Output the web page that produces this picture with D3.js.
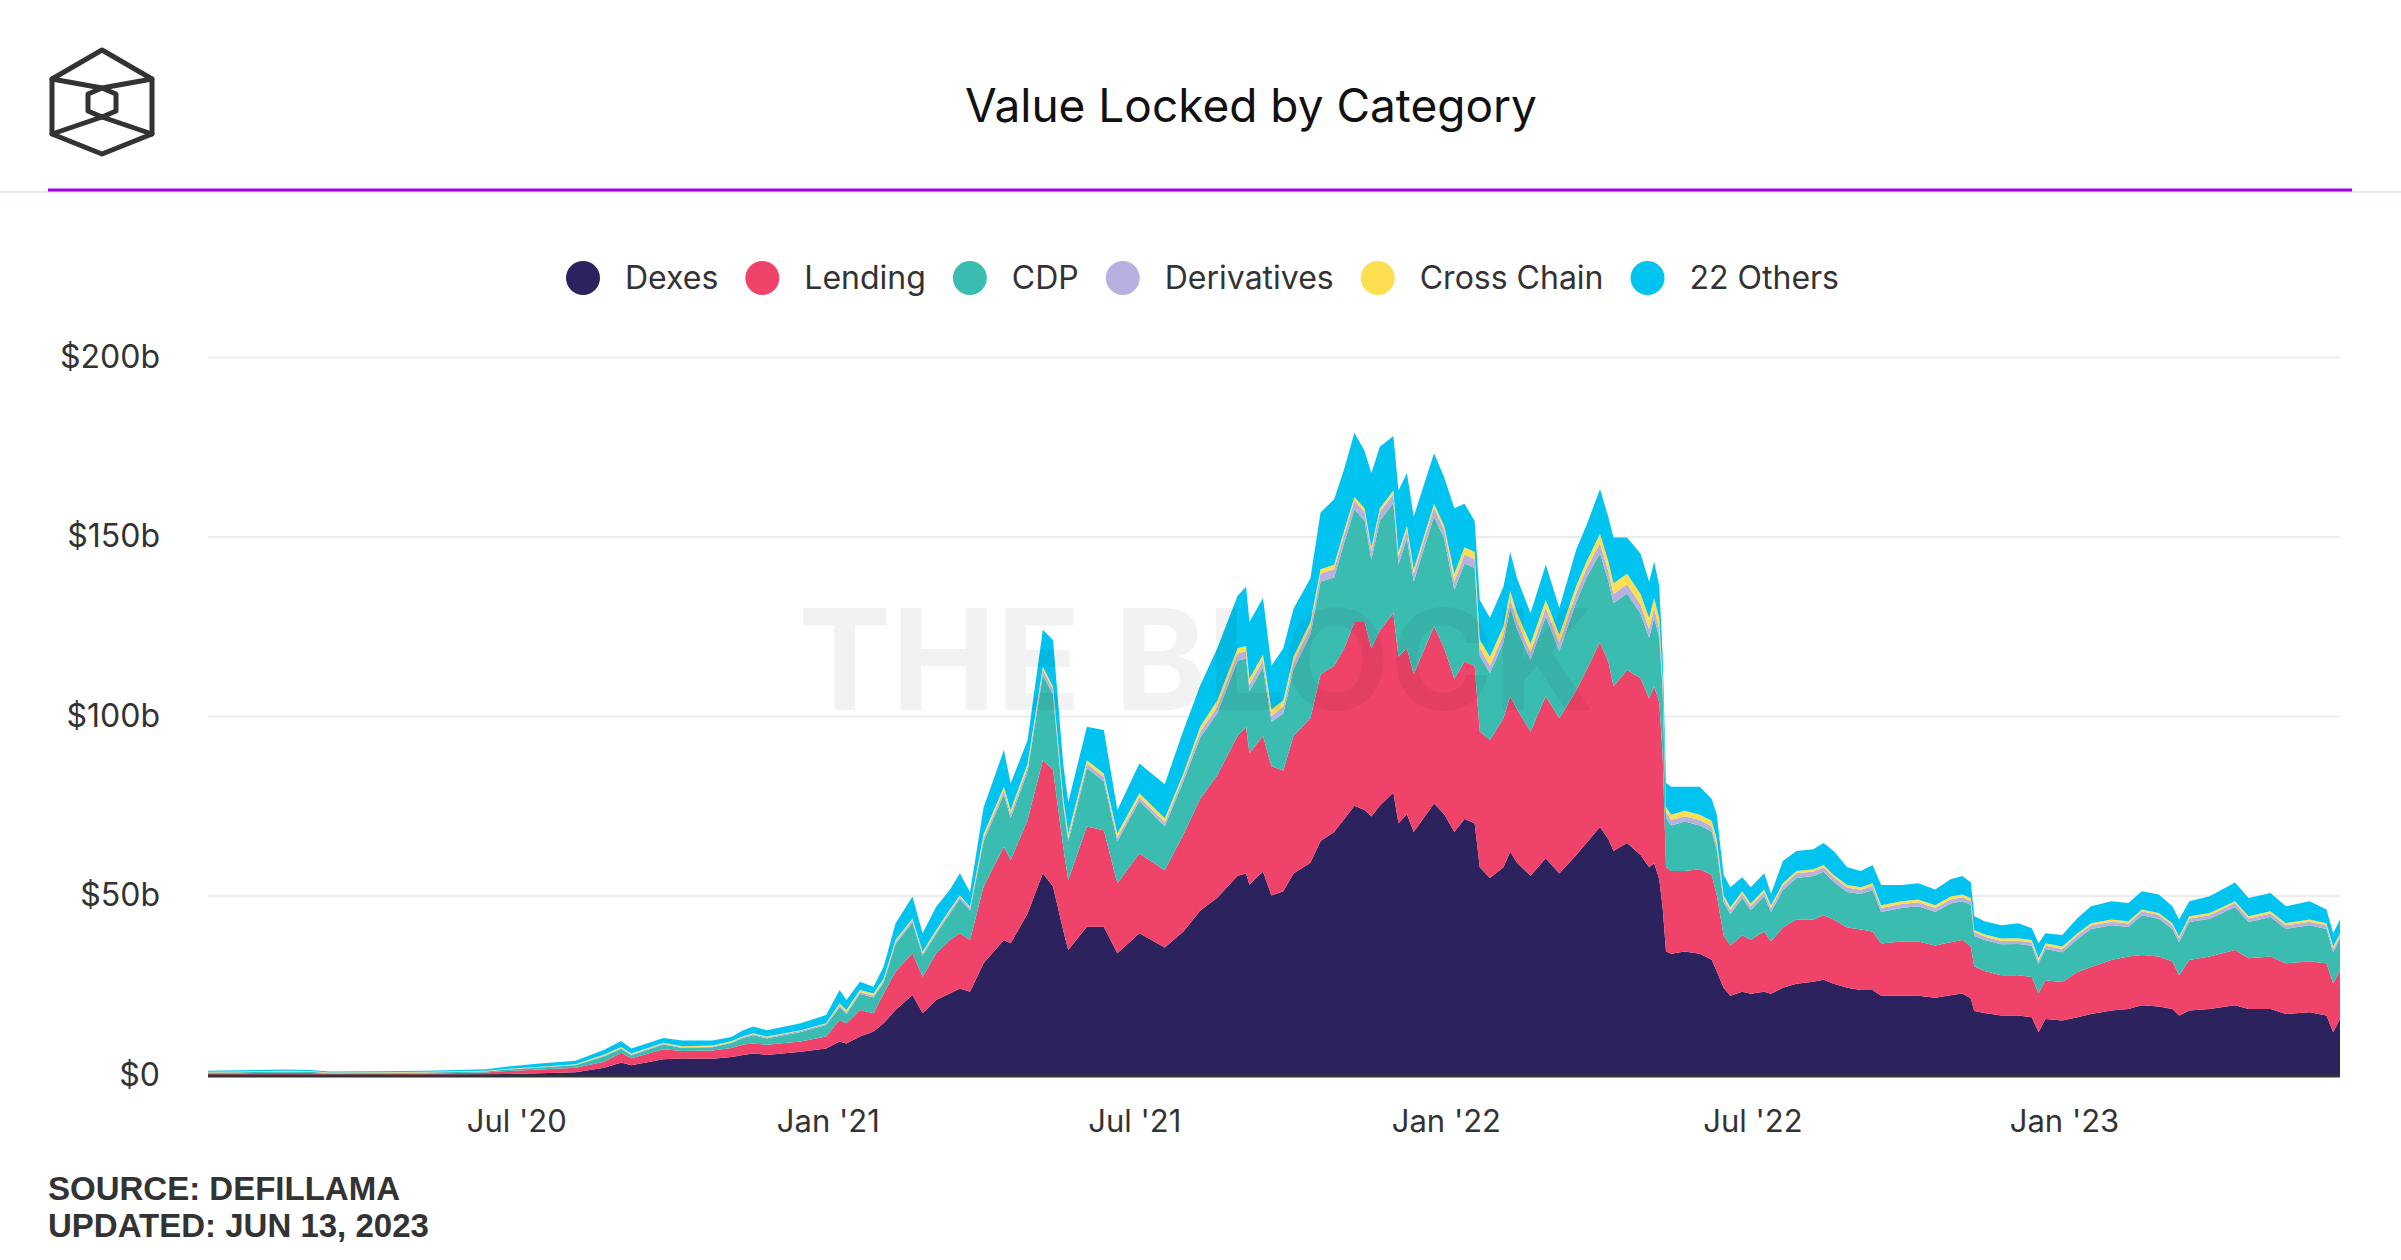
<!DOCTYPE html>
<html>
<head>
<meta charset="utf-8">
<script src="https://cdn.jsdelivr.net/npm/d3@7"></script>
<style>
  body { margin: 0; background: #fff; }
  svg { display: block; }
</style>
</head>
<body>
<div id="chart"></div>
<script>
// sample dates
const dates = ['2020-01-01','2020-01-20','2020-02-15','2020-03-01','2020-03-13','2020-04-10','2020-05-10','2020-06-13','2020-06-25','2020-07-15',
  '2020-08-05','2020-08-22','2020-09-01','2020-09-07','2020-09-26','2020-10-07','2020-10-25','2020-11-05','2020-11-12','2020-11-18',
  '2020-11-26','2020-12-16','2020-12-31','2021-01-08','2021-01-12','2021-01-20','2021-01-28','2021-02-03','2021-02-10','2021-02-20',
  '2021-02-26','2021-03-06','2021-03-14','2021-03-20','2021-03-26','2021-04-03','2021-04-15','2021-04-19','2021-04-29','2021-05-08',
  '2021-05-14','2021-05-20','2021-05-23','2021-06-03','2021-06-13','2021-06-21','2021-07-04','2021-07-19','2021-07-30','2021-08-09',
  '2021-08-19','2021-08-31','2021-09-05','2021-09-07','2021-09-15','2021-09-20','2021-09-27','2021-10-03','2021-10-13','2021-10-19',
  '2021-10-27','2021-11-02','2021-11-08','2021-11-14','2021-11-18','2021-11-23','2021-12-01','2021-12-04','2021-12-09','2021-12-13',
  '2021-12-25','2021-12-31','2022-01-06','2022-01-12','2022-01-18','2022-01-21','2022-01-27','2022-02-04','2022-02-08','2022-02-12',
  '2022-02-20','2022-03-01','2022-03-09','2022-03-19','2022-03-25','2022-04-02','2022-04-07','2022-04-10','2022-04-18','2022-04-26',
  '2022-05-01','2022-05-04','2022-05-07','2022-05-09','2022-05-11','2022-05-14','2022-05-22','2022-05-31','2022-06-07','2022-06-10',
  '2022-06-14','2022-06-18','2022-06-25','2022-06-30','2022-07-08','2022-07-12','2022-07-19','2022-07-27','2022-08-06','2022-08-12',
  '2022-08-18','2022-08-26','2022-09-03','2022-09-10','2022-09-15','2022-09-27','2022-10-07','2022-10-17','2022-10-26','2022-11-02',
  '2022-11-07','2022-11-09','2022-11-15','2022-11-25','2022-12-05','2022-12-13','2022-12-17','2022-12-21','2022-12-31','2023-01-09',
  '2023-01-17','2023-01-29','2023-02-08','2023-02-16','2023-02-26','2023-03-06','2023-03-10','2023-03-16','2023-03-28','2023-04-12',
  '2023-04-20','2023-05-03','2023-05-12','2023-05-26','2023-06-05','2023-06-09','2023-06-13'];

// values in $b
const dexes = [.05,.05,.1,.1,.05,.1,.1,.2,.3,.5,
  .8,2.0,3.5,2.7,4.4,4.6,4.5,5.0,5.6,6.0,
  5.6,6.5,7.4,9.3,8.8,10.7,12.1,14.4,18.1,22.3,
  17.2,20.9,22.7,24.1,23.2,31.1,37.6,36.7,45.0,56.2,
  52.5,40.4,34.8,41.3,41.3,33.9,39.5,35.5,40.0,45.8,
  49.4,55.5,56.1,53.0,56.7,50.0,51.2,56.1,59.1,65.2,
  67.7,71.3,75.0,73.8,72.0,75.0,78.7,70.1,72.6,67.7,
  75.6,72.6,67.7,71.3,70.1,57.9,54.9,57.9,62.2,59.1,
  55.5,60.4,56.1,61.3,64.6,69.1,65.7,62.4,64.6,61.3,
  57.9,59.0,54.5,46.7,34.4,33.8,34.4,33.8,32.1,28.8,
  24.3,22.1,23.2,22.6,23.2,22.6,24.3,25.4,26.0,26.5,
  25.4,24.3,23.7,23.7,22.1,22.1,22.1,21.5,22.2,22.7,
  21.3,17.8,17.3,16.6,16.6,16.1,11.9,15.6,15.2,16.1,
  17.0,18.0,18.4,19.4,19.1,18.4,16.6,18.0,18.4,19.4,
  18.4,18.4,17.0,17.5,16.6,11.9,15.6];

const lending = [.45,.45,.5,.45,.3,.3,.35,.5,.8,1.0,
  1.2,1.7,2.7,2.0,2.8,2.1,2.3,2.5,2.9,2.8,
  2.8,2.8,3.3,6.0,5.6,7.4,5.1,8.3,10.7,11.6,
  10.2,13.0,14.9,15.4,14.4,21.4,26.0,23.2,26.0,31.5,
  32.5,23.2,19.5,27.9,26.9,19.5,22.2,21.5,27.0,31.2,
  34.1,39.0,40.9,36.6,37.8,36.0,33.6,38.4,40.3,46.4,
  46.3,47.6,51.2,52.4,46.9,48.8,50.0,46.4,46.3,43.9,
  49.4,46.3,42.7,43.9,43.9,37.8,38.4,41.5,43.3,42.7,
  40.2,45.1,43.3,45.9,48.2,51.5,49.3,45.9,48.2,49.2,
  47.0,49.3,49.3,42.6,23.5,23.0,22.4,23.5,23.6,21.3,
  14.6,14.0,15.7,15.1,16.8,14.6,16.8,17.9,17.3,18.0,
  17.9,16.8,16.8,16.3,14.5,15.1,15.1,14.6,14.8,14.9,
  14.5,12.5,11.7,11.2,11.2,11.2,10.8,10.8,10.7,12.6,
  13.1,14.0,14.6,14.0,13.9,13.2,11.2,14.0,14.6,15.4,
  14.1,14.6,14.1,14.1,14.5,13.6,13.6];

const cdp = [.2,.25,.4,.35,.15,.2,.25,.3,.4,.6,
  .7,1.5,1.1,.8,1.3,.8,.9,1.4,1.8,2.3,
  1.8,2.7,3.2,3.6,2.6,4.5,4.4,3.1,7.7,8.6,
  5.9,5.4,7.3,9.5,8.2,12.6,14.5,11.7,13.6,23.8,
  21.0,11.7,10.8,16.3,13.6,11.7,14.6,12.3,14.8,17.1,
  17.3,20.9,19.0,17.3,19.1,12.3,16.0,18.5,23.3,25.8,
  24.6,29.4,31.3,28.2,24.6,30.6,30.6,25.7,30.6,25.8,
  30.6,30.6,24.7,27.3,27.2,21.1,18.7,21.1,24.8,22.4,
  19.9,22.3,18.7,24.6,25.7,24.7,22.5,23.2,21.3,18.0,
  16.9,19.1,18.0,18.2,13.8,12.7,13.8,12.2,12.1,12.6,
  9.3,8.7,10.4,8.2,9.8,8.2,10.4,11.6,12.1,12.1,
  10.5,9.9,9.9,11.5,8.8,9.3,9.8,9.3,10.8,10.8,
  11.6,8.5,8.6,8.6,8.7,8.7,8.2,8.7,8.3,9.2,
  10.6,9.7,8.2,11.1,10.5,9.1,9.2,10.6,10.5,12.0,
  10.1,11.0,9.6,10.1,9.6,8.7,8.7];

const derivatives = [.05,.05,.05,.05,.04,.05,.05,.06,.08,.1,
  .15,.2,.25,.2,.25,.22,.22,.25,.3,.3,
  .3,.35,.4,.5,.45,.5,.5,.55,.6,.7,
  .6,.6,.65,.7,.7,1.0,1.2,1.1,1.2,1.5,
  1.4,1.1,1.0,1.2,1.2,1.0,1.1,1.1,1.3,1.6,
  1.8,2.0,2.1,1.9,2.0,1.8,1.9,2.0,2.1,2.3,
  2.3,2.4,2.5,2.4,2.3,2.5,2.5,2.3,2.4,2.2,
  2.5,2.4,2.4,2.5,2.5,2.2,2.1,2.3,2.4,2.3,
  2.2,2.4,2.3,2.5,2.6,2.8,2.7,2.5,2.6,2.5,
  2.4,2.5,2.4,2.0,1.6,1.5,1.5,1.5,1.5,1.4,
  1.2,1.1,1.2,1.1,1.2,1.1,1.2,1.3,1.3,1.3,
  1.3,1.2,1.2,1.2,1.1,1.1,1.1,1.1,1.1,1.1,
  1.1,1.0,1.0,.9,.9,.9,.9,.9,.9,1.0,
  1.0,1.0,1.0,1.1,1.1,1.0,1.0,1.0,1.0,1.1,
  1.0,1.0,1.0,1.0,1.0,.9,.9];

const crossChain = [.15,.15,.15,.15,.16,.15,.15,.14,.12,.1,
  .15,.3,.25,.3,.25,.28,.28,.25,.2,.2,
  .2,.15,.1,.6,.65,.6,.6,.55,.5,.4,
  .5,.5,.45,.4,.4,1.0,1.0,1.1,1.0,.7,
  .8,1.1,1.2,1.0,1.0,1.2,1.1,1.1,.9,1.4,
  1.7,1.5,1.4,1.6,1.5,1.7,1.6,1.5,1.4,1.2,
  1.2,1.1,1.0,1.1,1.2,1.0,1.0,1.2,1.1,1.3,
  1.0,1.1,2.1,2.0,2.0,2.3,2.4,2.2,2.1,2.2,
  2.3,2.1,2.2,2.0,1.9,2.7,2.8,3.0,2.9,3.0,
  3.1,3.0,3.1,1.0,1.4,1.5,1.5,1.5,1.5,1.6,
  .7,.8,.7,.8,.7,.8,.7,.6,.6,.6,
  .6,.7,.7,.7,.8,.8,.8,.8,.8,.8,
  .8,.6,.6,.7,.7,.7,.7,.7,.7,.6,
  .6,.6,.6,.5,.5,.6,.6,.6,.6,.5,
  .6,.6,.6,.6,.6,.7,.7];

const others = [.3,.35,.3,.3,.25,.25,.3,.4,.6,.9,
  1.0,1.3,1.7,1.4,1.3,1.6,1.4,1.2,1.7,1.9,
  1.8,1.9,2.3,3.7,2.8,2.3,1.9,3.3,4.6,6.1,
  5.1,6.5,5.5,6.1,4.0,7.4,10.2,7.4,6.5,10.3,
  13.0,9.3,8.7,9.3,12.1,6.5,8.3,9.5,12.0,11.5,
  14.6,14.6,16.5,15.8,15.8,12.2,14.6,13.4,12.2,15.8,
  18.3,17.1,17.9,15.9,20.7,17.1,15.2,17.1,14.7,14.6,
  14.1,13.5,18.3,12.1,8.6,11.0,10.9,11.0,10.9,9.7,
  8.6,9.8,7.5,10.1,10.1,12.4,12.3,12.7,10.1,11.2,
  10.1,10.1,9.0,6.7,6.7,7.8,6.7,7.8,6.1,6.8,
  5.6,5.6,3.9,4.5,4.5,3.2,6.2,5.6,5.6,6.1,
  6.7,5.0,4.5,5.1,5.6,4.5,4.5,4.4,4.8,5.1,
  4.3,3.9,3.6,3.7,4.2,3.3,4.2,2.8,3.2,4.2,
  4.7,5.1,5.1,5.1,5.2,4.7,4.7,4.2,4.7,5.2,
  5.1,5.1,4.7,5.1,3.8,3.7,3.8];

const categories = ['Dexes', 'Lending', 'CDP', 'Derivatives', 'Cross Chain', '22 Others'];
const colors = ['#2b225e', '#f04369', '#3bbcb1', '#b8b1e0', '#fddf4f', '#00c3ef'];

const yTicks = [0, 50, 100, 150, 200];
const yTickLabels = ['$0', '$50b', '$100b', '$150b', '$200b'];
const xTicks = ['2020-07-01', '2021-01-01', '2021-07-01', '2022-01-01', '2022-07-01', '2023-01-01'];

const W = 2401, H = 1260;
const plot = { left: 208, right: 2340, top: 357, bottom: 1075 };
const parse = d3.timeParse('%Y-%m-%d');

const svg = d3.select('#chart').append('svg')
  .attr('width', W)
  .attr('height', H)
  .style('font-family', 'Inter, "Noto Sans", sans-serif');

svg.append('rect').attr('width', W).attr('height', H).attr('fill', '#fff');

// logo (cube outline)
const logo = svg.append('g')
  .attr('fill', 'none')
  .attr('stroke', '#333')
  .attr('stroke-width', 5)
  .attr('stroke-linejoin', 'round')
  .attr('stroke-linecap', 'round');
logo.append('path').attr('d', 'M102,50 L152,79 L152,134 L102,154 L52,134 L52,79 Z');
logo.append('path').attr('d', 'M52,79 L102,88 L152,79 M52,134 L102,117 L152,134');
logo.append('path').attr('d', 'M102,88 L116,94 L116,111 L102,117 L88,111 L88,94 Z');

// title
svg.append('text')
  .attr('x', 1251)
  .attr('y', 122)
  .attr('text-anchor', 'middle')
  .attr('fill', '#111')
  .style('font-size', '46px')
  .style('font-weight', '400')
  .text('Value Locked by Category');

// header rules
svg.append('line')
  .attr('x1', 0).attr('x2', W).attr('y1', 192).attr('y2', 192)
  .attr('stroke', '#efe6f4').attr('stroke-width', 2);
svg.append('line')
  .attr('x1', 48).attr('x2', 2352).attr('y1', 190).attr('y2', 190)
  .attr('stroke', '#9d00ef').attr('stroke-width', 3);

// legend
const legend = svg.append('g').attr('transform', 'translate(583,278)');
let lx = 0;
categories.forEach((name, i) => {
  const item = legend.append('g').attr('transform', `translate(${lx},0)`);
  item.append('circle').attr('r', 17).attr('fill', colors[i]);
  const t = item.append('text')
    .attr('x', 42)
    .attr('dy', '0.35em')
    .attr('fill', '#333')
    .style('font-size', '32px')
    .text(name);
  lx += 42 + t.node().getComputedTextLength() + 44;
});

// scales
const x = d3.scaleTime()
  .domain([parse('2020-01-01'), parse('2023-06-13')])
  .range([plot.left, plot.right]);
const y = d3.scaleLinear()
  .domain([0, 200])
  .range([plot.bottom, plot.top]);

// y axis + grid
const yAxis = svg.append('g')
  .attr('transform', `translate(${plot.left},0)`)
  .call(d3.axisLeft(y)
    .tickValues(yTicks)
    .tickFormat((d, i) => yTickLabels[i])
    .tickSize(-(plot.right - plot.left))
    .tickPadding(48));
yAxis.select('.domain').remove();
yAxis.selectAll('line').attr('stroke', '#ebebeb').attr('stroke-width', 2);
yAxis.selectAll('text')
  .attr('fill', '#333')
  .style('font-size', '32px')
  .style('font-family', 'Inter, sans-serif');

// stacked areas
const rows = dates.map((d, i) => ({
  date: parse(d),
  'Dexes': dexes[i],
  'Lending': lending[i],
  'CDP': cdp[i],
  'Derivatives': derivatives[i],
  'Cross Chain': crossChain[i],
  '22 Others': others[i]
}));
const stacked = d3.stack().keys(categories)(rows);

const area = d3.area()
  .x(d => x(d.data.date))
  .y0(d => y(d[0]))
  .y1(d => y(d[1]))
  .curve(d3.curveLinear);

svg.append('g')
  .selectAll('path')
  .data(stacked)
  .enter()
  .append('path')
  .attr('d', area)
  .attr('fill', (d, i) => colors[i]);

// watermark
svg.append('text')
  .attr('x', 1196)
  .attr('y', 710)
  .attr('text-anchor', 'middle')
  .attr('fill', '#000')
  .attr('fill-opacity', 0.05)
  .style('font-size', '140px')
  .style('font-weight', '700')
  .text('THE BLOCK');

// baseline
svg.append('line')
  .attr('x1', plot.left).attr('x2', plot.right)
  .attr('y1', plot.bottom + 1).attr('y2', plot.bottom + 1)
  .attr('stroke', '#333').attr('stroke-width', 3);

// x axis
const xAxis = svg.append('g')
  .attr('transform', `translate(0,${plot.bottom})`)
  .call(d3.axisBottom(x)
    .tickValues(xTicks.map(parse))
    .tickFormat(d3.timeFormat("%b '%y"))
    .tickSize(0)
    .tickPadding(35));
xAxis.select('.domain').remove();
xAxis.selectAll('text')
  .attr('fill', '#333')
  .style('font-size', '31px')
  .style('font-family', 'Inter, sans-serif');

// footer
const foot = svg.append('g')
  .attr('fill', '#333')
  .style('font-family', '"Liberation Sans", Arial, sans-serif')
  .style('font-weight', '700')
  .style('font-size', '33px');
foot.append('text').attr('x', 48).attr('y', 1200).text('SOURCE: DEFILLAMA');
foot.append('text').attr('x', 48).attr('y', 1237).text('UPDATED: JUN 13, 2023');
</script>
</body>
</html>
